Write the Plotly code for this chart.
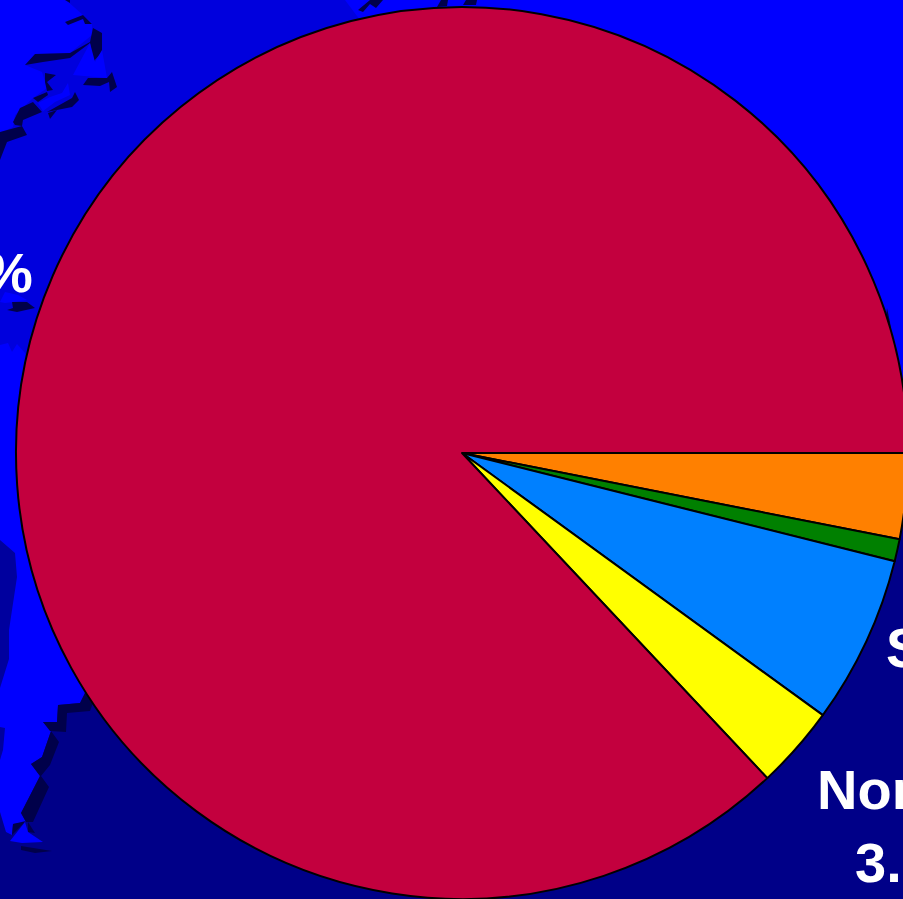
import plotly.graph_objects as go

# Pie data
regions = ["Other", "Central", "South America", "North America", "Remainder"]
shares = [3.1, 0.8, 6.1, 3.0, 87.0]
slice_colors = ["#FF8000", "#008000", "#0080FF", "#FFFF00", "#C3003E"]

W, H = 924, 899
NAVY, MID, BRIGHT, SHADOW, PATCH = "#000088", "#0000DD", "#0000FF", "#00004A", "#00009E"

# Decorative world-map backdrop outlines (image pixels)
ocean_mid = [(0, 0), (380, 0), (500, 450), (0, 450)]
land_ne = [(345, 0), (903, 0), (924, 0), (924, 450), (470, 450), (390, 60)]
land_nw = [(0, 0), (66, 0), (83, 15), (92, 23), (92, 35), (70, 53), (36, 54), (25, 65), (42, 72),
           (47, 88), (33, 98), (15, 115), (13, 127), (0, 133)]
land_sa = [(0, 345), (8, 343), (12, 352), (17, 344), (25, 353), (40, 450), (140, 700), (85, 693),
           (80, 703), (58, 705), (57, 722), (43, 722), (51, 731), (42, 757), (31, 764), (40, 776),
           (21, 813), (26, 822), (13, 824), (12, 835), (6, 832), (3, 822), (0, 812)]
bright_bits = [
    [(90, 43), (73, 75), (107, 78), (102, 50), (95, 62)],
    [(38, 103), (50, 97), (62, 93), (68, 83), (70, 95), (55, 102), (43, 111)],
    [(0, 302), (5, 292), (18, 295), (27, 300), (13, 302), (5, 303)],
    [(25, 822), (10, 841), (22, 843), (43, 842), (28, 832)],
]
shadow_bits = [
    [(65, 22), (83, 15), (92, 24), (85, 24), (83, 19), (68, 25)],
    [(25, 65), (35, 54), (70, 53), (90, 42), (93, 28), (102, 33), (102, 52), (93, 62), (90, 43), (70, 58), (43, 62)],
    [(83, 85), (88, 78), (107, 78), (112, 72), (117, 87), (110, 92), (109, 82), (100, 86)],
    [(45, 73), (56, 75), (47, 82), (53, 90), (47, 91), (45, 82)],
    [(33, 98), (47, 92), (48, 95), (38, 102)],
    [(13, 122), (20, 108), (33, 102), (42, 112), (23, 120), (22, 126), (15, 125)],
    [(0, 132), (22, 126), (27, 135), (7, 142), (0, 160)],
    [(47, 112), (72, 107), (79, 100), (75, 92), (72, 98), (55, 107)],
    [(48, 113), (57, 110), (50, 119)],
    [(12, 302), (27, 302), (35, 308), (17, 312), (7, 310), (13, 308)],
    [(85, 693), (93, 703), (90, 711), (67, 713), (66, 732), (50, 731), (43, 722), (57, 722), (58, 705), (80, 703)],
    [(51, 731), (59, 742), (50, 765), (41, 776), (49, 787), (33, 822), (26, 822), (21, 813), (40, 776), (31, 764), (42, 757)],
    [(21, 846), (52, 851), (35, 853), (21, 850)],
    [(13, 824), (26, 821), (12, 835)],
    [(28, 822), (35, 833), (28, 832)],
    [(65, 0), (70, 0), (70, 3)],
    [(363, 12), (370, 4), (376, 8), (383, 0), (370, 0), (358, 10)],
    [(437, 7), (441, 0), (448, 0), (447, 6)],
    [(463, 5), (466, 0), (477, 0), (476, 5)],
    [(887, 308), (890, 322), (893, 345), (885, 325)],
]
patch_bits = [
    [(0, 540), (15, 553), (17, 577), (9, 630), (9, 659), (0, 688)],
    [(0, 727), (5, 728), (3, 750), (0, 760)],
]

fig = go.Figure()


def add_poly(points, color):
    fig.add_trace(go.Scatter(
        x=[p[0] for p in points] + [points[0][0]],
        y=[p[1] for p in points] + [points[0][1]],
        mode="lines", fill="toself", fillcolor=color,
        line=dict(width=0, color=color), hoverinfo="skip", showlegend=False,
    ))


add_poly(ocean_mid, MID)
add_poly(land_ne, BRIGHT)
add_poly(land_nw, BRIGHT)
add_poly(land_sa, BRIGHT)
for poly in patch_bits:
    add_poly(poly, PATCH)
for poly in shadow_bits:
    add_poly(poly, SHADOW)
for poly in bright_bits:
    add_poly(poly, BRIGHT)

fig.add_trace(go.Pie(
    labels=regions, values=shares, sort=False, direction="clockwise", rotation=90,
    marker=dict(colors=slice_colors, line=dict(color="#000000", width=2)),
    textinfo="none", hoverinfo="skip", showlegend=False,
    domain=dict(x=[0, 1], y=[0, 892 / 899]),
))

font = dict(family="Liberation Sans, Arial, sans-serif", size=56, color="#FFFFFF")
labels = [
    ("<b>87.0%</b>", 35, 239, "right"),
    ("<b>South America</b>", 884, 614, "left"),
    ("<b>North America</b>", 815, 756, "left"),
    ("<b>3.0%</b>", 853, 829, "left"),
]
for text, x, y, anchor in labels:
    fig.add_annotation(text=text, x=x, y=y, xref="x", yref="y", xanchor=anchor, yanchor="top",
                       showarrow=False, font=font, align="left")

fig.update_layout(
    width=W, height=H, margin=dict(l=0, r=0, t=0, b=0),
    paper_bgcolor=NAVY, plot_bgcolor=NAVY, showlegend=False, hovermode=False,
    xaxis=dict(range=[0, W], visible=False, fixedrange=True),
    yaxis=dict(range=[H, 0], visible=False, fixedrange=True),
)
fig.write_html(
    "out.html",
    config={"displayModeBar": False},
    post_script="document.documentElement.style.overflow='hidden';"
                "document.body.style.overflow='hidden';document.body.style.margin='0';",
)
